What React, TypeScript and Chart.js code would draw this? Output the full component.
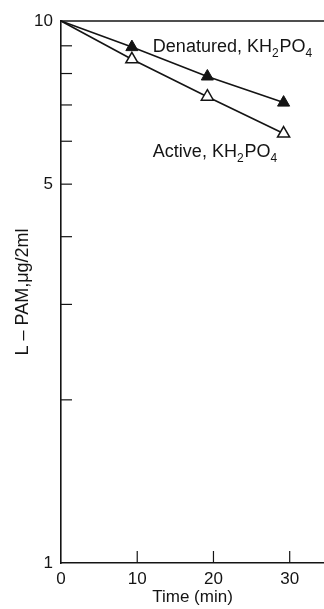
import React, { useEffect, useRef } from "react";
import { Chart, registerables } from "chart.js";

Chart.register(...registerables);

const timeMin = [0, 9.3, 19.2, 29.2];
const denatured = [10, 8.95, 7.9, 7.07];
const active = [10, 8.5, 7.25, 6.2];
const yLabelValues = [1, 5, 10];
const yMinorTicks = [2, 3, 4, 5, 6, 7, 8, 9];
const xTickMarks = [10, 20, 30];
const denaturedLabel: [string, boolean][] = [["Denatured, KH", false], ["2", true], ["PO", false], ["4", true]];
const activeLabel: [string, boolean][] = [["Active, KH", false], ["2", true], ["PO", false], ["4", true]];

const INK = "#141414";
const FONT = "'Liberation Sans', Arial, sans-serif";

function drawChem(ctx: CanvasRenderingContext2D, parts: [string, boolean][], x: number, y: number) {
  let cx = x;
  ctx.textBaseline = "alphabetic";
  ctx.textAlign = "left";
  for (const [t, sub] of parts) {
    ctx.font = sub ? `12px ${FONT}` : `18px ${FONT}`;
    ctx.fillText(t, cx, sub ? y + 5 : y);
    cx += ctx.measureText(t).width + (sub ? 1 : 0);
  }
}

const decorPlugin = {
  id: "decor",
  afterDraw(chart: any) {
    const { ctx, chartArea, scales } = chart;
    const xs = scales.x;
    const ys = scales.y;
    ctx.save();
    ctx.strokeStyle = INK;
    ctx.lineWidth = 1.5;
    ctx.beginPath();
    ctx.moveTo(chartArea.left, chartArea.top);
    ctx.lineTo(chartArea.right, chartArea.top);
    ctx.stroke();
    ctx.lineWidth = 1.2;
    for (const v of yMinorTicks) {
      const py = ys.getPixelForValue(v);
      ctx.beginPath();
      ctx.moveTo(chartArea.left, py);
      ctx.lineTo(chartArea.left + 11, py);
      ctx.stroke();
    }
    for (const v of xTickMarks) {
      const px = xs.getPixelForValue(v);
      ctx.beginPath();
      ctx.moveTo(px, chartArea.bottom);
      ctx.lineTo(px, chartArea.bottom - 12);
      ctx.stroke();
    }
    ctx.fillStyle = INK;
    drawChem(ctx, denaturedLabel, xs.getPixelForValue(12.05), ys.getPixelForValue(8.77));
    drawChem(ctx, activeLabel, xs.getPixelForValue(12.05), ys.getPixelForValue(5.61));
    ctx.restore();
  },
};

export default function App() {
  const ref = useRef<HTMLCanvasElement>(null);
  useEffect(() => {
    document.body.style.margin = "0";
    const canvas = ref.current!;
    const chart = new Chart(canvas, {
      type: "line",
      data: {
        datasets: [
          {
            label: "Denatured, KH2PO4",
            data: timeMin.map((x, i) => ({ x, y: denatured[i] })),
            borderColor: INK,
            borderWidth: 1.6,
            pointStyle: "triangle",
            pointRadius: timeMin.map((_, i) => (i === 0 ? 0 : 7)),
            pointBackgroundColor: INK,
            pointBorderColor: INK,
            pointBorderWidth: 1,
            tension: 0,
            clip: false,
          },
          {
            label: "Active, KH2PO4",
            data: timeMin.map((x, i) => ({ x, y: active[i] })),
            borderColor: INK,
            borderWidth: 1.6,
            pointStyle: "triangle",
            pointRadius: timeMin.map((_, i) => (i === 0 ? 0 : 7)),
            pointBackgroundColor: "#ffffff",
            pointBorderColor: INK,
            pointBorderWidth: 1.5,
            tension: 0,
            clip: false,
          },
        ],
      },
      options: {
        responsive: false,
        animation: false,
        layout: { autoPadding: false, padding: { top: 21, right: 0, left: 0, bottom: 0 } },
        plugins: { legend: { display: false }, tooltip: { enabled: false } },
        scales: {
          x: {
            type: "linear",
            min: 0,
            max: 34.5,
            grid: { display: false, drawTicks: false },
            border: { display: true, color: INK, width: 1.6 },
            ticks: {
              stepSize: 10,
              includeBounds: false,
              color: INK,
              font: { family: FONT, size: 17 },
              padding: 6,
              maxRotation: 0,
            },
            title: {
              display: true,
              text: "Time (min)",
              color: INK,
              font: { family: FONT, size: 17 },
              padding: { top: 0, bottom: 1 },
            },
            afterFit: (s: any) => {
              s.height = 46;
              s.paddingRight = 0;
            },
          },
          y: {
            type: "logarithmic",
            min: 1,
            max: 10,
            grid: { display: false, drawTicks: false },
            border: { display: true, color: INK, width: 1.6 },
            ticks: {
              autoSkip: false,
              color: INK,
              font: { family: FONT, size: 17 },
              padding: 8,
              callback: (v: any) => (yLabelValues.includes(Number(v)) ? String(v) : ""),
            },
            afterBuildTicks: (s: any) => {
              s.ticks = [1, 2, 3, 4, 5, 6, 7, 8, 9, 10].map((value) => ({ value }));
            },
            title: {
              display: true,
              text: "L – PAM,μg/2ml",
              color: INK,
              font: { family: FONT, size: 18 },
              padding: { top: 12, bottom: 0 },
            },
            afterFit: (s: any) => {
              s.width = 61;
            },
          },
        },
      },
      plugins: [decorPlugin],
    });
    return () => chart.destroy();
  }, []);
  return <canvas ref={ref} width={324} height={609} style={{ display: "block" }} />;
}
